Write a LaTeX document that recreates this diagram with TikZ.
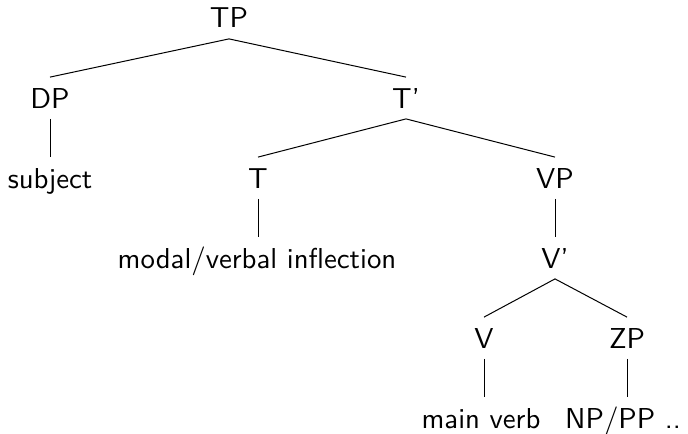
\documentclass[tikz,border=0pt]{standalone}
\usepackage{graphicx}
\newcommand\trlab[1]{\scalebox{1.44}{\sffamily\fontsize{10}{12}\selectfont #1}}
\begin{document}
\begin{tikzpicture}[x=0.5pt,y=-0.5pt,
  lbl/.style={anchor=base,
    text height=10pt, text depth=0pt, inner xsep=0pt, inner ysep=5.25pt},
  edge/.style={line width=0.5pt, black}]
\useasboundingbox (0,0) rectangle (688,433);
\node[lbl] (TP) at (229,28) {\trlab{TP}};
\node[lbl] (DP) at (50,108) {\trlab{DP}};
\node[lbl] (Tb) at (406,108) {\trlab{T'}};
\node[lbl] (subj) at (50,188) {\trlab{subject}};
\node[lbl] (T) at (258,188) {\trlab{T}};
\node[lbl] (VP) at (555,188) {\trlab{VP}};
\node[lbl] (infl) at (257,268) {\trlab{modal/verbal inflection}};
\node[lbl] (Vb) at (555,268) {\trlab{V'}};
\node[lbl] (V) at (484,348) {\trlab{V}};
\node[lbl] (ZP) at (627,348) {\trlab{ZP}};
\node[lbl] (mv) at (481,428) {\trlab{main verb}};
\node[lbl] (np) at (623,428) {\trlab{NP/PP ..}};
\draw[edge] (DP.north) -- (TP.south) -- (Tb.north);
\draw[edge] (DP.south) -- (DP.south |- subj.north);
\draw[edge] (T.north) -- (Tb.south) -- (VP.north);
\draw[edge] (T.south) -- (T.south |- infl.north);
\draw[edge] (VP.south) -- (VP.south |- Vb.north);
\draw[edge] (V.north) -- (Vb.south) -- (ZP.north);
\draw[edge] (V.south) -- (V.south |- mv.north);
\draw[edge] (ZP.south) -- (ZP.south |- np.north);
\end{tikzpicture}
\end{document}
